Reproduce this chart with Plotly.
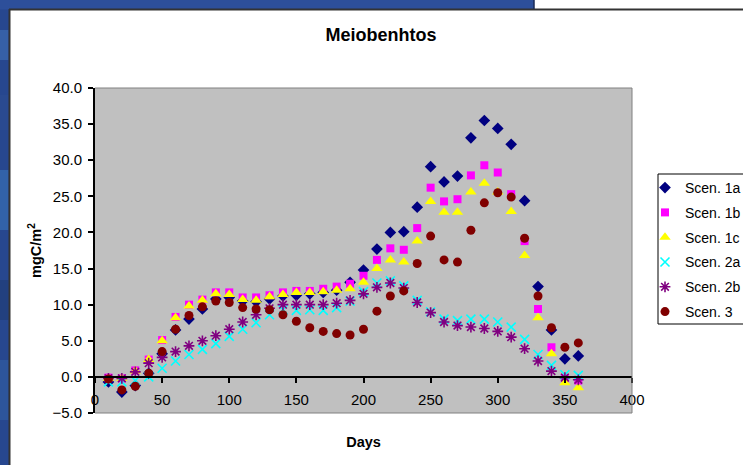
import plotly.graph_objects as go

# Sampling days (x values)
days = [10, 20, 30, 40, 50, 60, 70, 80, 90, 100, 110, 120,
        130, 140, 150, 160, 170, 180, 190, 200, 210, 220, 230, 240,
        250, 260, 270, 280, 290, 300, 310, 320, 330, 340, 350, 360]

# Meiobenthos biomass, mgC/m2, per scenario
scen_1a = [-0.7, -2.1, -1.2, 0.5, 3.2, 6.5, 8.0, 9.4, 10.8, 11.0, 10.5, 10.4,
           10.8, 11.2, 11.3, 11.5, 11.7, 12.0, 13.1, 14.8, 17.7, 20.0, 20.1, 23.5,
           29.1, 27.0, 27.8, 33.1, 35.5, 34.4, 32.2, 24.4, 12.5, 6.5, 2.5, 2.9]
scen_1b = [-0.1, -0.2, 0.9, 2.4, 5.1, 8.3, 10.0, 10.7, 11.7, 11.7, 11.0, 11.0,
           11.3, 11.7, 11.9, 11.9, 12.2, 12.5, 12.9, 14.0, 16.2, 17.8, 17.6, 20.6,
           26.2, 24.3, 24.6, 27.9, 29.3, 28.3, 25.3, 18.8, 9.4, 4.1, -0.2, -0.5]
scen_1c = [-0.2, -0.2, 0.8, 2.4, 5.0, 8.2, 9.8, 10.6, 11.5, 11.4, 10.7, 10.6,
           11.1, 11.4, 11.7, 11.7, 11.8, 12.0, 12.2, 13.1, 15.0, 16.2, 15.9, 18.8,
           24.3, 22.8, 22.8, 25.6, 26.8, 25.6, 22.9, 16.8, 8.2, 3.2, -0.8, -1.5]
scen_2a = [-0.7, -0.7, -0.5, 0.0, 1.2, 2.2, 3.1, 3.8, 4.6, 5.6, 6.6, 7.5,
           8.6, 9.3, 9.2, 9.3, 9.2, 9.6, 10.5, 11.8, 13.0, 13.3, 12.6, 10.6,
           9.0, 8.0, 7.8, 8.0, 8.0, 7.6, 6.9, 5.2, 3.1, 1.6, 0.3, 0.2]
scen_2b = [-0.2, -0.2, 0.7, 1.9, 2.7, 3.5, 4.3, 5.0, 5.7, 6.6, 7.6, 8.6,
           9.5, 10.0, 10.0, 10.0, 10.0, 10.2, 10.6, 11.5, 12.4, 13.0, 12.3, 10.3,
           8.9, 7.6, 7.1, 6.9, 6.7, 6.3, 5.5, 3.9, 2.2, 0.8, -0.1, -0.4]
scen_3 = [-0.3, -1.8, -1.3, 0.5, 3.5, 6.6, 8.5, 9.7, 10.5, 10.3, 9.6, 9.4,
          9.3, 8.6, 7.7, 6.8, 6.3, 6.0, 5.8, 6.6, 9.1, 11.2, 11.9, 15.7,
          19.5, 16.2, 15.9, 20.3, 24.1, 25.5, 24.9, 19.2, 11.2, 6.8, 4.1, 4.7]

y_ticks = [-5, 0, 5, 10, 15, 20, 25, 30, 35, 40]
x_ticks = [0, 50, 100, 150, 200, 250, 300, 350, 400]

series = [
    ("Scen. 1a", scen_1a, dict(symbol="diamond", size=9, color="#000080")),
    ("Scen. 1b", scen_1b, dict(symbol="square", size=8, color="#FF00FF")),
    ("Scen. 1c", scen_1c, dict(symbol="triangle-up", size=10, color="#FFFF00")),
    ("Scen. 2a", scen_2a, dict(symbol="x-thin-open", size=9, color="#00FFFF",
                               line=dict(width=1.6, color="#00FFFF"))),
    ("Scen. 2b", scen_2b, dict(symbol="asterisk-open", size=9, color="#800080",
                               line=dict(width=1.6, color="#800080"))),
    ("Scen. 3", scen_3, dict(symbol="circle", size=9, color="#800000")),
]

fig = go.Figure()
for name, vals, mk in series:
    fig.add_trace(go.Scatter(x=days, y=vals, mode="markers", name=name,
                             legendgroup=name, marker=mk))

# figure and plot-area geometry in pixels (for the decorative frame shapes)
W, H = 743, 465
L, R, T, B = 95, 632, 88, 413


def cx(x):
    return x / W


def cy(y):
    return 1 - y / H


def rect_px(x0, x1, y0, y1, **kw):
    return dict(type="rect", xref="paper", yref="paper",
                x0=(x0 - L) / (R - L), x1=(x1 - L) / (R - L),
                y0=(B - y1) / (B - T), y1=(B - y0) / (B - T), **kw)


def line_px(x0, y0, x1, y1, **kw):
    return dict(type="line", xref="paper", yref="paper",
                x0=(x0 - L) / (R - L), x1=(x1 - L) / (R - L),
                y0=(B - y0) / (B - T), y1=(B - y1) / (B - T), **kw)


# slide background strips around the chart
shapes = [
    rect_px(0, 9.5, 0, H, layer="below", fillcolor="#27478f", line=dict(width=0)),
    rect_px(0, 534, 0, 9.5, layer="below", fillcolor="#2d4f9a", line=dict(width=0)),
]
for y0, y1, c in [(30, 60, "#3660a6"), (95, 130, "#2a4a90"), (170, 230, "#3262a9"),
                  (280, 320, "#22407f"), (360, 420, "#2d559c")]:
    shapes.append(rect_px(0, 8.5, y0, y1, layer="below", fillcolor=c,
                          line=dict(width=0)))
# chart-area border (top and left)
shapes.append(line_px(9, 9.5, W, 9.5, layer="above", line=dict(color="#333333", width=2)))
shapes.append(line_px(9.5, 9, 9.5, H, layer="above", line=dict(color="#333333", width=2)))
shapes.append(line_px(534, 0, 534, 9, layer="above", line=dict(color="#1a2a55", width=1.5)))
# plot-area frame (top, right, bottom)
for x0, y0, x1, y1 in [(0, 1, 1, 1), (1, 0, 1, 1), (0, 0, 1, 0)]:
    shapes.append(dict(type="line", xref="paper", yref="paper", layer="above",
                       x0=x0, y0=y0, x1=x1, y1=y1,
                       line=dict(color="#808080", width=1)))
# legend box
shapes.append(rect_px(658, 760, 174, 324, layer="below", fillcolor="white",
                      line=dict(color="black", width=1)))

font_family = "Arial, Liberation Sans, sans-serif"

fig.update_layout(
    width=W, height=H, autosize=False,
    margin=dict(l=L, r=W - R, t=T, b=H - B, pad=0, autoexpand=False),
    paper_bgcolor="white", plot_bgcolor="#C0C0C0",
    font=dict(family=font_family, size=15, color="black"),
    title=dict(text="Meiobenhtos", x=cx(381), xref="container", xanchor="center",
               y=cy(35), yref="container", yanchor="middle",
               font=dict(size=18, weight="bold", family=font_family)),
    showlegend=True,
    legend=dict(x=cx(645), xref="container", xanchor="left",
                y=cy(172), yref="container", yanchor="top",
                bgcolor="rgba(0,0,0,0)", borderwidth=0, tracegroupgap=3.6,
                font=dict(size=14, family=font_family)),
    shapes=shapes,
)

fig.update_xaxes(range=[0, 400], tickvals=x_ticks, ticks="outside", ticklen=5,
                 tickwidth=1.5, tickcolor="black", showline=True, linecolor="black",
                 linewidth=2, showgrid=False, zeroline=False,
                 anchor="free", position=5 / 45, ticklabelstandoff=4,
                 title=dict(text="Days", standoff=29,
                            font=dict(size=14.5, weight="bold", family=font_family)))
fig.update_yaxes(range=[-5, 40], tickvals=y_ticks, tickformat=".1f", ticks="outside",
                 ticklen=5, tickwidth=1.5, tickcolor="black", showline=True,
                 linecolor="black", linewidth=2, showgrid=False, zeroline=False,
                 ticklabelstandoff=3,
                 title=dict(text="mgC/m<sup>2</sup>", standoff=7,
                            font=dict(size=14.5, weight="bold", family=font_family)))

fig.write_html("out.html")
